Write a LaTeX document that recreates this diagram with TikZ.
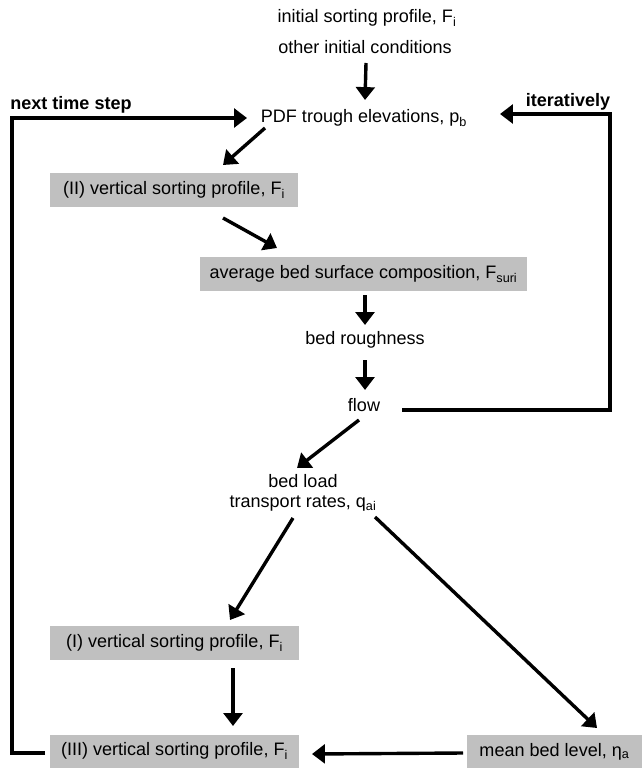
\documentclass[tikz,border=0pt]{standalone}
\usepackage{fontspec}
\setmainfont{Liberation Sans}
\usepackage{tikz}
\usetikzlibrary{arrows.meta, calc}

\definecolor{boxgray}{RGB}{192,192,192}

\begin{document}
\begin{tikzpicture}[x=0.03cm, y=-0.03cm, line width=2.9pt,
    >={Triangle[length=11pt, width=16pt]},
    every node/.style={font=\fontsize{15.4}{17}\selectfont, inner sep=0pt},
    looplabel/.style={font=\fontsize{15.4}{17}\selectfont\bfseries},
    box/.style={fill=boxgray, minimum height=1.02cm}]
    \useasboundingbox (0,0) rectangle (642,768);

    % Nodes
    \node (init) at (367,18) {initial sorting profile, F\textsubscript{i}};
    \node (other) at (365,47) {other initial conditions};
    \node (pdf) at (364,118) {PDF trough elevations, p\textsubscript{b}};
    \node[looplabel] (next) at (71,105) {next time step};
    \node[looplabel] (iter) at (568,102) {iteratively};
    \node[box, minimum width=7.44cm] (II) at (174,190) {(II) vertical sorting profile, F\textsubscript{i}};
    \node[box, minimum width=9.81cm] (avg) at (363.5,274) {average bed surface composition, F\textsubscript{suri}};
    \node (rough) at (365,340) {bed roughness};
    \node (flow) at (364,405) {flow};
    \node[align=center] (load) at (303,493) {bed load\\transport rates, q\textsubscript{ai}};
    \node[box, minimum width=7.47cm] (I) at (174.5,643) {(I) vertical sorting profile, F\textsubscript{i}};
    \node[box, minimum width=7.47cm, minimum height=0.99cm] (III) at (174.5,751) {(III) vertical sorting profile, F\textsubscript{i}};
    \node[box, minimum width=5.25cm, minimum height=0.99cm] (mean) at (554.5,751.5) {mean bed level, η\textsubscript{a}};

    % Edges
    \draw[->] ([shift={(1,16)}]other.center) -- ([shift={(1,-18)}]pdf.center);
    \draw[->] ([shift={(-99,10)}]pdf.center) -- ([shift={(49,-25)}]II.center);
    \draw[->] ([shift={(49,28)}]II.center) -- ([shift={(-86.5,-26)}]avg.center);
    \draw[->] ([shift={(1.5,21)}]avg.center) -- ([shift={(0,-15)}]rough.center);
    \draw[->] ([shift={(0,20)}]rough.center) -- ([shift={(1,-15)}]flow.center);
    \draw[->] ([shift={(-5,15)}]flow.center) -- ([shift={(-6,-25)}]load.center);
    \draw[->] ([shift={(-10,25)}]load.center) -- ([shift={(55.5,-23)}]I.center);
    \draw[->] ([shift={(72,24)}]load.center) -- ([shift={(42.5,-23.5)}]mean.center);
    \draw[->] ([shift={(58.5,25)}]I.center) -- ([shift={(58.5,-25)}]III.center);
    \draw[->] ([shift={(-91.5,1.5)}]mean.center) -- ([shift={(137.5,3)}]III.center);

    % Feedback loops
    \draw[->] ([shift={(-129.5,2)}]III.center) -- ++(-33,0) |- ([shift={(-117,0)}]pdf.center);
    \draw[->] ([shift={(38,5)}]flow.center) -- ++(208,0) |- ([shift={(136,-4)}]pdf.center);
\end{tikzpicture}
\end{document}
